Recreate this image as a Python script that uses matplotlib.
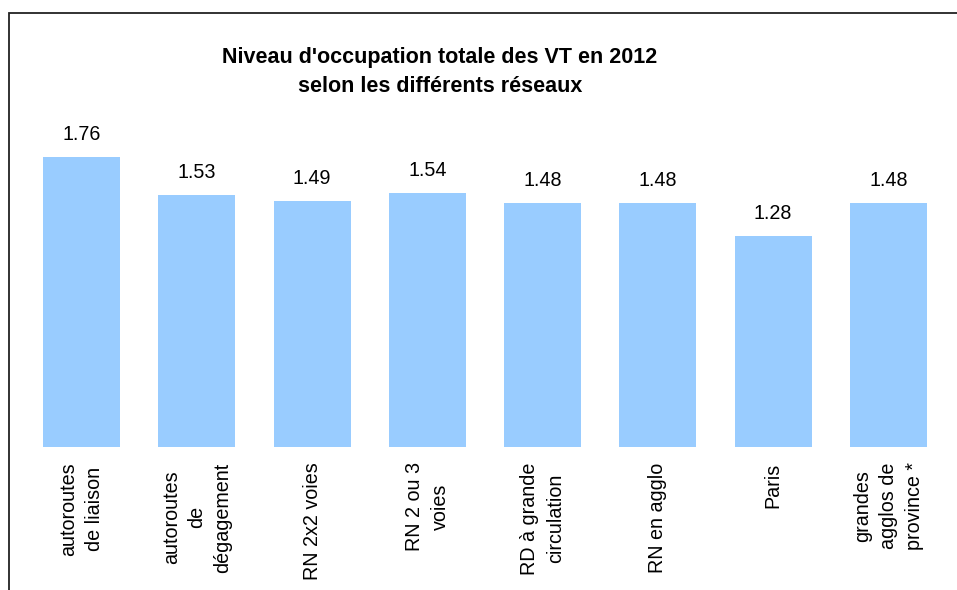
import matplotlib.pyplot as plt
from matplotlib.patches import Rectangle

reseaux = ["autoroutes\nde liaison", "autoroutes\nde\ndégagement", "RN 2x2 voies",
           "RN 2 ou 3\nvoies", "RD à grande\ncirculation", "RN en agglo", "Paris",
           "grandes\nagglos de\nprovince *"]
occupation = [1.76, 1.53, 1.49, 1.54, 1.48, 1.48, 1.28, 1.48]

plt.rcParams['font.family'] = ['Liberation Sans', 'DejaVu Sans']
plt.rcParams['font.size'] = 14.2

W, H = 957, 590
fig = plt.figure(figsize=(W / 100, H / 100), dpi=100)

# zone de tracé en pixels : gauche 24, droite 946, pied des barres à y=447
ax = fig.add_axes([24 / W, (H - 447) / H, 922 / W, (447 - 117) / H])
x = range(len(reseaux))
bars = ax.bar(x, occupation, width=0.67, color='#99CCFF')
ax.set_xlim(-0.5, len(reseaux) - 0.5)
ax.set_ylim(0, 2.0)

for b, v in zip(bars, occupation):
    ax.annotate(f"{v:.2f}", (b.get_x() + b.get_width() / 2, v),
                xytext=(0, 16), textcoords='offset points',
                ha='center', va='center')

ax.set_xticks(list(x))
ax.set_xticklabels(reseaux, rotation=90, ha='center', va='top',
                   multialignment='center', linespacing=1.45)
ax.tick_params(axis='x', length=0, pad=11)
ax.set_yticks([])
for s in ax.spines.values():
    s.set_visible(False)

fig.text(440 / W, 1 - 72 / H, "Niveau d'occupation totale des VT en 2012\nselon les différents réseaux",
         ha='center', va='center', fontweight='bold', fontsize=15.5, linespacing=1.55)

# cadre autour du graphique
fig.patches.append(Rectangle((9 / W, -0.1), 1.2, 1.1 - 13 / H, transform=fig.transFigure,
                             fill=False, edgecolor='#222222', linewidth=1.3))

fig.savefig("out.png", dpi=100)
